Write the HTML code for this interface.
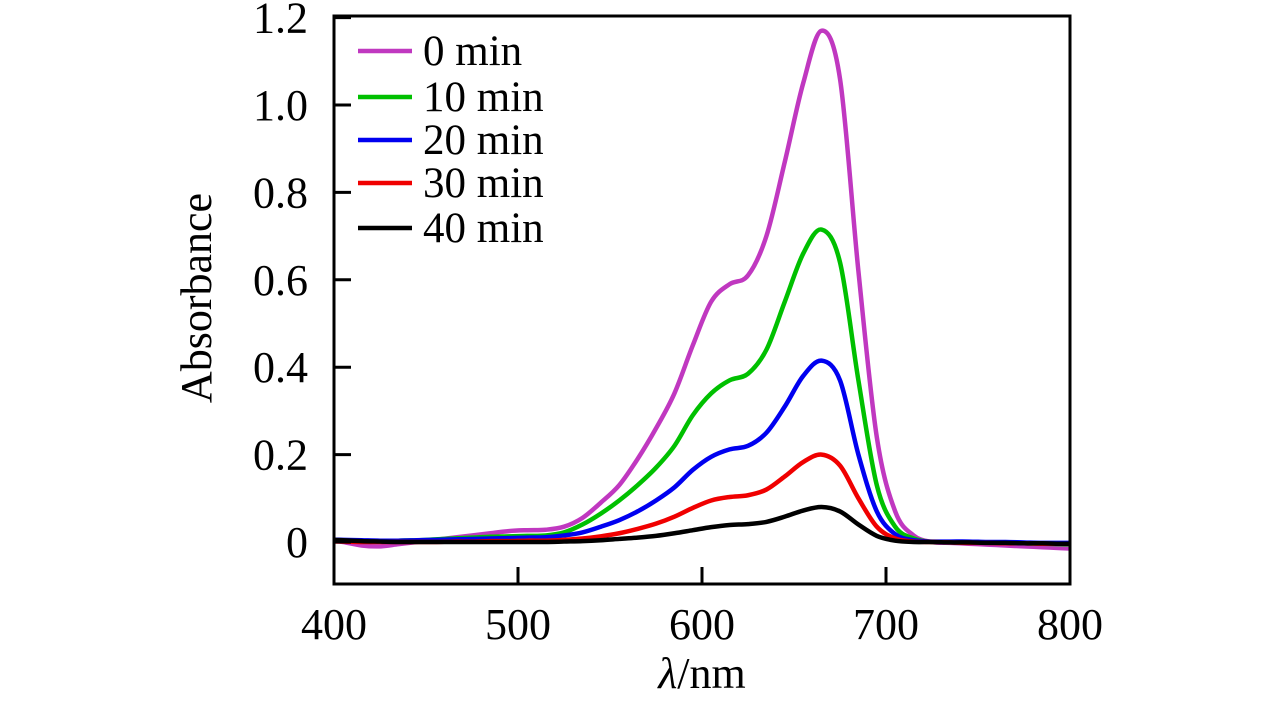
<!DOCTYPE html>
<html><head><meta charset="utf-8"><style>
html,body{margin:0;padding:0;background:#fff;}
svg{display:block;font-family:"Liberation Serif",serif;}
</style></head><body>
<svg id="chart" width="1283" height="709" viewBox="0 0 1283 709" xmlns="http://www.w3.org/2000/svg"></svg>
<script>
const wavelengths=[400,405,415,425,435,445,455,465,475,485,495,505,515,525,535,545,555,565,575,585,595,605,615,625,635,645,655,665,675,685,695,705,715,725,735,745,755,765,775,785,795,800];
const seriesNames=["0 min","10 min","20 min","30 min","40 min"];
const seriesColors=["#c038c0","#00c000","#0000f0","#f00000","#000000"];
const s0=[0.002,0,-0.008,-0.01,-0.005,0,0.005,0.01,0.015,0.02,0.025,0.027,0.028,0.035,0.055,0.09,0.13,0.19,0.26,0.34,0.45,0.55,0.59,0.61,0.7,0.87,1.05,1.17,1.06,0.62,0.24,0.07,0.015,0,-0.002,-0.004,-0.006,-0.008,-0.01,-0.012,-0.014,-0.015];
const s10=[0.003,0.003,0.002,0.002,0.003,0.004,0.006,0.008,0.01,0.012,0.013,0.014,0.015,0.022,0.04,0.065,0.095,0.13,0.17,0.22,0.29,0.34,0.37,0.385,0.44,0.55,0.66,0.715,0.64,0.37,0.13,0.035,0.008,0,0,0,-0.001,-0.002,-0.003,-0.004,-0.005,-0.005];
const s20=[0.005,0.005,0.004,0.003,0.003,0.004,0.005,0.006,0.007,0.008,0.009,0.01,0.011,0.015,0.022,0.035,0.05,0.07,0.095,0.125,0.165,0.195,0.212,0.22,0.25,0.31,0.38,0.415,0.37,0.2,0.07,0.018,0.004,0.001,0.001,0.001,0,0,-0.001,-0.002,-0.002,-0.002];
const s30=[0.001,0.001,0,0,0,0,0,0.001,0.001,0.002,0.002,0.003,0.003,0.005,0.008,0.013,0.02,0.03,0.042,0.058,0.078,0.095,0.103,0.107,0.12,0.15,0.183,0.2,0.175,0.1,0.035,0.008,0.001,0,-0.001,-0.002,-0.002,-0.003,-0.003,-0.004,-0.004,-0.004];
const s40=[0.005,0.004,0.002,0.001,0,0,0,0,0,0,0,0,0,0.001,0.002,0.004,0.007,0.01,0.014,0.02,0.027,0.034,0.039,0.041,0.046,0.058,0.072,0.08,0.07,0.04,0.014,0.003,0,0,-0.001,-0.001,-0.002,-0.002,-0.003,-0.003,-0.004,-0.004];
const allSeries=[s0,s10,s20,s30,s40];
const xTicks=[400,500,600,700,800];
const yTicks=[0,0.2,0.4,0.6,0.8,1.0,1.2];
const yTickLabels=["0","0.2","0.4","0.6","0.8","1.0","1.2"];

const L=334,R=1070,T=16,B=584;
const xs=v=>L+(v-400)*(R-L)/400;
const ys=v=>542-v*437;
const NS="http://www.w3.org/2000/svg";
const svg=document.getElementById('chart');
function mk(tag,attrs,txt){const e=document.createElementNS(NS,tag);for(const k in attrs)e.setAttribute(k,attrs[k]);if(txt!==undefined)e.textContent=txt;svg.appendChild(e);return e;}

allSeries.forEach((s,i)=>{
  const p=s.map((v,j)=>[xs(wavelengths[j]),ys(v)]);
  let d="M"+p[0][0]+","+p[0][1];
  for(let j=0;j<p.length-1;j++){
    const p0=p[Math.max(j-1,0)],p1=p[j],p2=p[j+1],p3=p[Math.min(j+2,p.length-1)];
    const c1=[p1[0]+(p2[0]-p0[0])/6,p1[1]+(p2[1]-p0[1])/6];
    const c2=[p2[0]-(p3[0]-p1[0])/6,p2[1]-(p3[1]-p1[1])/6];
    d+=` C${c1[0]},${c1[1]} ${c2[0]},${c2[1]} ${p2[0]},${p2[1]}`;
  }
  const path=mk('path',{d:d,fill:'none',stroke:seriesColors[i],'stroke-width':4.5,'stroke-linejoin':'round'});
  
  
});

const fr=mk('rect',{x:L,y:T,width:R-L,height:B-T,fill:'none',stroke:'#000','stroke-width':3});



xTicks.forEach(v=>{
  if(v>400&&v<800){const t=mk('line',{x1:xs(v),x2:xs(v),y1:B,y2:B-17,stroke:'#000','stroke-width':3});
  
  }
  const lb=mk('text',{x:xs(v),y:639,'font-size':44,'text-anchor':'middle'},String(v));
  
  
});
yTicks.forEach((v,i)=>{
  const t=mk('line',{x1:L,x2:L+17,y1:ys(v),y2:ys(v),stroke:'#000','stroke-width':3});
  
  
  const lb=mk('text',{x:308,y:ys(v)+15,'font-size':44,'text-anchor':'end'},yTickLabels[i]);
  
  
});

const yt=mk('text',{x:0,y:0,'font-size':44,'text-anchor':'middle',transform:'translate(211,298) rotate(-90)'},'Absorbance');


const xt=mk('text',{x:702,y:688,'font-size':44,'text-anchor':'middle'});


const ti=document.createElementNS(NS,'tspan');ti.setAttribute('font-style','italic');ti.textContent='λ';xt.appendChild(ti);
const tn=document.createElementNS(NS,'tspan');tn.textContent='/nm';xt.appendChild(tn);

const legY=[51,97,140,183,228];
seriesNames.forEach((n,i)=>{
  const l=mk('line',{x1:358,x2:412,y1:legY[i],y2:legY[i],stroke:seriesColors[i],'stroke-width':4.5});
  
  
  const t=mk('text',{x:423,y:legY[i]+14,'font-size':43},n);
  
  
});
</script>
</body></html>
